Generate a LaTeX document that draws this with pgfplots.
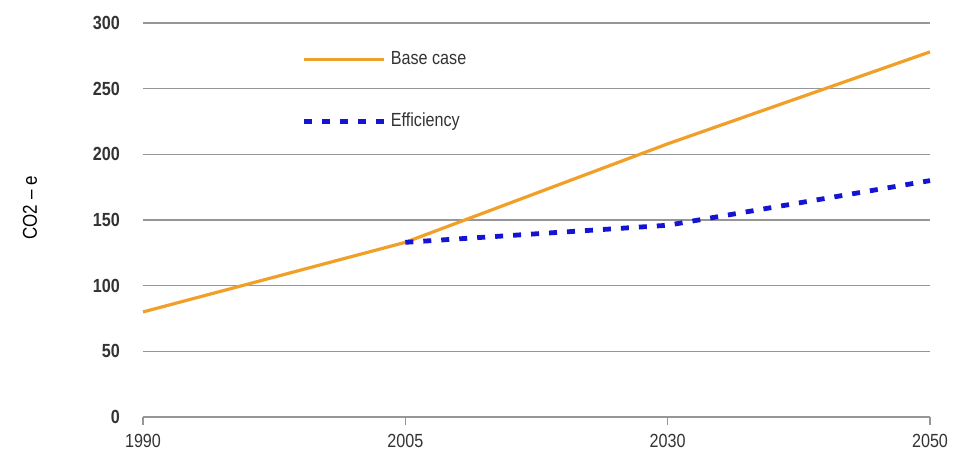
\documentclass[border=0pt]{standalone}
\usepackage{fontspec}
\setmainfont{Liberation Sans}[FakeStretch=0.85]
\usepackage{pgfplots}
\pgfplotsset{compat=1.18}
\definecolor{basec}{RGB}{240,160,40}
\definecolor{effc}{RGB}{20,20,210}
\definecolor{gridc}{RGB}{150,150,150}
\begin{document}
\begin{tikzpicture}
\begin{axis}[
  scale only axis,
  width=393.5pt, height=197pt,
  xmin=0, xmax=3, ymin=0, ymax=300,
  xtick={0,1,2,3}, xticklabels={1990,2005,2030,2050},
  ytick={0,50,...,300},
  axis line style={draw=none},
  axis x line*=bottom,
  axis y line*=left,
  ymajorgrids, grid style={gridc, line width=0.8pt},
  major y tick style={draw=none},
  major x tick style={gridc, line width=0.6pt},
  xtick align=outside, major tick length=4pt,
  tick label style={font=\fontsize{9.5}{11}\selectfont, text=black!80},
  yticklabel style={font=\fontsize{9.5}{11}\selectfont\bfseries, xshift=-8pt},
  /pgf/number format/assume math mode=true,
  xticklabel style={yshift=-1pt},
  ylabel={CO2 -- e},
  ylabel style={font=\fontsize{10.5}{12}\selectfont, text=black!80},
  every axis y label/.style={at={(rel axis cs:0,0.5)}, xshift=-56.5pt, yshift=6pt, rotate=90, anchor=center},
  clip=false,
  legend cell align=left,
  legend style={at={(rel axis cs:0.194,0.95)}, anchor=north west, draw=none, fill=none,
    font=\fontsize{9.5}{11}\selectfont, text=black!80, row sep=19pt,
    /tikz/every even column/.append style={column sep=1pt}},
  legend image code/.code={\draw[#1] (0pt,0pt) -- (40pt,0pt);},
]
\draw[gridc, line width=0.8pt] (rel axis cs:0,0) -- (rel axis cs:1,0);
\addplot[basec, line width=1.6pt] coordinates {(0,80) (1,133) (2,208) (3,278)};
\addlegendentry{Base case}
\addplot[effc, line width=2.4pt, dash pattern=on 4pt off 5pt] coordinates {(1,133) (2,146) (3,180)};
\addlegendentry{Efficiency}
\end{axis}
\path (current axis.south west) ++(-71.5pt,-24.5pt) coordinate (bl);
\path (current axis.north east) ++(15.5pt,11.5pt) coordinate (tr);
\path (bl) rectangle (tr);
\end{tikzpicture}
\end{document}
